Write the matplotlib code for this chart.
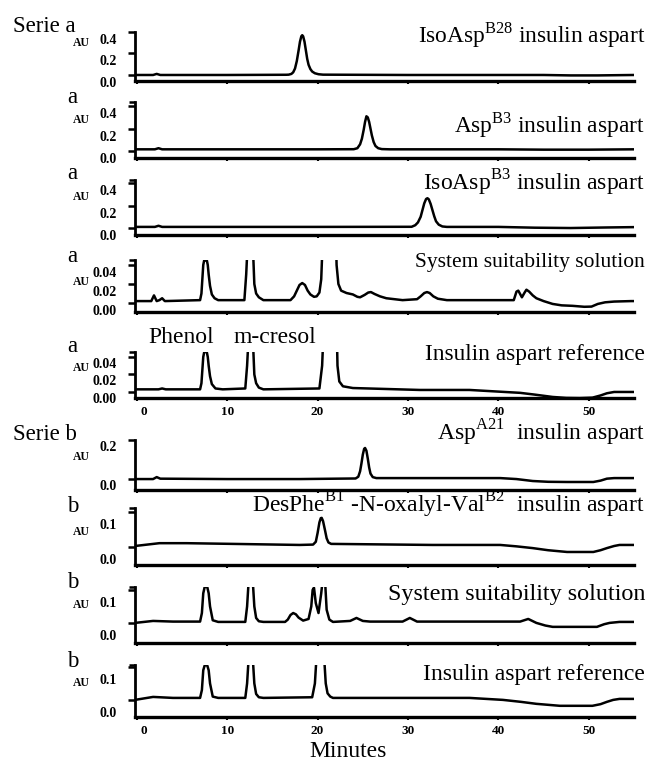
import numpy as np
import matplotlib
matplotlib.use('Agg')
import matplotlib.pyplot as plt
import matplotlib.transforms as mtransforms

plt.rcParams['font.family'] = ['Liberation Serif', 'DejaVu Serif']
plt.rcParams['mathtext.fontset'] = 'custom'
plt.rcParams['mathtext.rm'] = 'Liberation Serif'

W, H = 650, 766  # pixel size of the figure

# ---- traces (time in minutes, absorbance in AU) ----
t1 = [-0.2, 1.8, 2.2, 2.6, 10, 16.5, 16.8, 17.1, 17.3, 17.5, 17.7, 17.9, 18.05, 18.2, 18.3, 18.4, 18.55,
      18.7, 18.85, 19.0, 19.2, 19.4, 19.7, 20.1, 20.6, 30, 45, 48, 51, 55]
a1 = [0.0, 0.0, 0.01, 0.0, 0.0, 0.002, 0.003, 0.01, 0.025, 0.06, 0.13, 0.23, 0.31, 0.36, 0.37, 0.36, 0.31,
      0.23, 0.15, 0.095, 0.055, 0.032, 0.016, 0.007, 0.003, 0.0, 0.0, -0.004, -0.004, 0.0]

t2 = [-0.2, 2.0, 2.4, 2.8, 10, 20, 24.0, 24.4, 24.7, 24.9, 25.1, 25.25, 25.4, 25.55, 25.7, 25.85, 26.0,
      26.2, 26.4, 26.7, 27.1, 28, 40, 45, 50, 55]
a2 = [0.015, 0.015, 0.025, 0.015, 0.015, 0.015, 0.016, 0.025, 0.06, 0.11, 0.19, 0.26, 0.31, 0.30, 0.26, 0.2, 0.14,
      0.08, 0.045, 0.025, 0.017, 0.015, 0.015, 0.012, 0.012, 0.015]

t3 = [-0.2, 2.0, 2.4, 2.8, 10, 20, 30.4, 30.8, 31.1, 31.4, 31.6, 31.8, 32.0, 32.15, 32.3, 32.5, 32.7,
      32.9, 33.1, 33.4, 33.8, 34.3, 40, 44, 48, 52, 55]
a3 = [0.01, 0.01, 0.02, 0.01, 0.01, 0.01, 0.011, 0.025, 0.05, 0.1, 0.16, 0.22, 0.258, 0.265, 0.255, 0.215, 0.16,
      0.105, 0.06, 0.03, 0.014, 0.01, 0.01, 0.003, 0.0, 0.005, 0.008]

t4 = [-0.2, 1.6, 1.9, 2.2, 2.5, 2.8, 3.1, 7.0, 7.15, 7.25, 7.35, 7.45, 7.6, 7.75, 7.85, 7.95, 8.1, 8.3, 8.6, 9.0,
      11.9, 12.1, 12.3, 12.8, 13.0, 13.2, 13.5, 14, 17.0, 17.4, 17.7, 18.0, 18.3, 18.6, 18.9, 19.2, 19.6, 19.9,
      20.2, 20.4, 20.5, 20.8, 22.0, 22.1, 22.3, 22.6, 23.2, 23.9, 24.4, 24.7, 25.2, 25.6, 25.9, 26.3, 26.9, 27.6,
      29.4, 31.0, 31.4, 31.8, 32.1, 32.4, 32.8, 33.3, 34.3, 41.7, 42.0, 42.2, 42.6, 42.9, 43.1, 43.4, 43.8, 44.2,
      45.0, 46.0, 47.0, 48.2, 49.5, 50.3, 51.0, 51.8, 52.8, 54.7, 55]
a4 = [0.002, 0.002, 0.008, 0.002, 0.003, 0.005, 0.002, 0.003, 0.01, 0.025, 0.04, 0.0448, 0.0452, 0.0448, 0.04, 0.03, 0.018, 0.009, 0.005, 0.003,
      0.003, 0.03, 0.07, 0.07, 0.02, 0.01, 0.006, 0.003, 0.003, 0.007, 0.013, 0.019, 0.021, 0.019, 0.013, 0.009, 0.0065, 0.007,
      0.011, 0.025, 0.05, 0.08, 0.08, 0.04, 0.02, 0.013, 0.0105, 0.009, 0.0065, 0.006, 0.0085, 0.011, 0.0115, 0.0095, 0.007, 0.005,
      0.003, 0.004, 0.007, 0.0105, 0.0115, 0.0105, 0.007, 0.0045, 0.003, 0.003, 0.012, 0.013, 0.006, 0.011, 0.014, 0.012, 0.008, 0.005,
      0.002, -0.001, -0.0025, -0.003, -0.004, -0.0038, -0.001, 0.0007, 0.0015, 0.002, 0.002]

t5 = [-0.2, 2.4, 2.8, 3.2, 7.0, 7.15, 7.25, 7.35, 7.45, 7.6, 7.75, 7.85, 7.95, 8.1, 8.3, 8.7, 9.5,
      12.0, 12.2, 12.4, 12.8, 13.0, 13.2, 13.5, 14.0, 20.2, 20.5, 20.7, 22.1, 22.2, 22.4, 22.8, 23.9, 31.3,
      36.8, 42.4, 44.0, 46.0, 47.5, 49.0, 50.4, 51.3, 52.0, 52.8, 55]
a5 = [0.003, 0.003, 0.004, 0.003, 0.003, 0.01, 0.025, 0.04, 0.0452, 0.046, 0.0452, 0.04, 0.03, 0.018, 0.009, 0.004, 0.003,
      0.004, 0.03, 0.07, 0.07, 0.02, 0.01, 0.005, 0.003, 0.004, 0.03, 0.08, 0.08, 0.03, 0.012, 0.0065, 0.0045, 0.0023,
      0.0023, -0.001, -0.003, -0.0057, -0.0068, -0.007, -0.0065, -0.004, -0.0015, 0.0, 0.0]

t6 = [-0.2, 1.8, 2.2, 2.6, 10, 18, 24.2, 24.5, 24.7, 24.85, 25.0, 25.15, 25.25, 25.4, 25.55, 25.7, 25.85,
      26.1, 26.5, 32.7, 40.2, 42.0, 43.8, 45.5, 47.6, 50.5, 51.3, 52.0, 52.8, 55]
a6 = [0.0, 0.0, 0.01, 0.002, 0.0, 0.0, 0.003, 0.012, 0.04, 0.08, 0.125, 0.155, 0.159, 0.145, 0.105, 0.06, 0.028,
      0.01, 0.005, 0.005, 0.005, 0.0, -0.01, -0.014, -0.015, -0.015, -0.008, 0.002, 0.005, 0.005]

t7 = [-0.2, 2.5, 5.5, 10.6, 18.0, 19.5, 19.8, 20.0, 20.2, 20.35, 20.45, 20.6, 20.8, 21.0, 21.2, 21.5,
      32.7, 40.2, 42.0, 43.8, 45.5, 47.6, 50.5, 51.3, 52.0, 52.8, 53.4, 55]
a7 = [0.003, 0.011, 0.011, 0.009, 0.006, 0.007, 0.015, 0.04, 0.07, 0.082, 0.083, 0.074, 0.05, 0.025, 0.013, 0.009,
      0.006, 0.006, 0.002, -0.003, -0.009, -0.014, -0.014, -0.009, -0.003, 0.003, 0.006, 0.006]

t8 = [-0.2, 1.8, 4.0, 7.0, 7.2, 7.35, 7.5, 7.65, 7.8, 7.95, 8.1, 8.4, 9.0, 12.0, 12.2, 12.4, 12.8, 13.0, 13.2, 13.5, 14,
      16.4, 16.7, 17.0, 17.3, 17.6, 17.9, 18.4, 19.0, 19.3, 19.45, 19.6, 19.8, 20.1, 20.4, 20.6, 20.8, 21.0, 21.3, 21.7,
      23.6, 24.3, 25.0, 25.8, 29.4, 30.2, 31.0, 42.4, 43.3, 44.2, 45.2, 46.0, 50.9, 51.7, 52.3, 53.4, 55]
a8 = [0.0, 0.006, 0.004, 0.004, 0.03, 0.09, 0.108, 0.11, 0.108, 0.09, 0.05, 0.008, 0.003, 0.003, 0.05, 0.14, 0.14, 0.05, 0.015, 0.005, 0.003,
      0.003, 0.01, 0.024, 0.03, 0.026, 0.016, 0.007, 0.012, 0.05, 0.1, 0.107, 0.06, 0.03, 0.09, 0.14, 0.14, 0.04, 0.01, 0.003,
      0.006, 0.015, 0.006, 0.004, 0.004, 0.015, 0.004, 0.004, 0.012, 0.0, -0.008, -0.012, -0.012, -0.004, 0.0, 0.003, 0.003]

t9 = [-0.2, 1.8, 4.0, 7.0, 7.2, 7.35, 7.5, 7.65, 7.8, 7.95, 8.1, 8.4, 9.0, 12.0, 12.2, 12.4, 12.8, 13.0, 13.2, 13.5, 14,
      19.4, 19.7, 19.9, 20.7, 20.9, 21.1, 21.4, 21.7, 36.8, 40.5, 42.5, 44.2, 46.8, 50.4, 51.3, 52.0, 52.7, 53.4, 55]
a9 = [0.0, 0.009, 0.006, 0.006, 0.03, 0.09, 0.104, 0.106, 0.104, 0.09, 0.05, 0.01, 0.006, 0.006, 0.05, 0.14, 0.14, 0.05, 0.018, 0.008, 0.006,
      0.008, 0.05, 0.14, 0.14, 0.05, 0.02, 0.01, 0.006, 0.006, 0.0, -0.006, -0.012, -0.018, -0.018, -0.013, -0.006, 0.0, 0.003, 0.003]

titles = [r'IsoAsp$^{\mathrm{B28}}$ insulin aspart',
          r'Asp$^{\mathrm{B3}}$ insulin aspart',
          r'IsoAsp$^{\mathrm{B3}}$ insulin aspart',
          'System suitability solution',
          'Insulin aspart reference',
          r'Asp$^{\mathrm{A21}}$  insulin aspart',
          r'DesPhe$^{\mathrm{B1}}$ -N-oxalyl-Val$^{\mathrm{B2}}$  insulin aspart',
          'System suitability solution',
          'Insulin aspart reference']
series = ['Serie a', 'a', 'a', 'a', 'a', 'Serie b', 'b', 'b', 'b']
yticks = [[0, 0.2, 0.4], [0, 0.2, 0.4], [0, 0.2, 0.4],
          [0, 0.02, 0.04], [0, 0.02, 0.04],
          [0, 0.2], [0, 0.1], [0, 0.1], [0, 0.1]]
yticklabels = [['0.0', '0.2', '0.4'], ['0.0', '0.2', '0.4'], ['0.0', '0.2', '0.4'],
               ['0.00', '0.02', '0.04'], ['0.00', '0.02', '0.04'],
               ['0.0', '0.2'], ['0.0', '0.1'], ['0.0', '0.1'], ['0.0', '0.1']]
xticks = [0, 10, 20, 30, 40, 50]

traces = [(t1, a1), (t2, a2), (t3, a3), (t4, a4), (t5, a5), (t6, a6), (t7, a7), (t8, a8), (t9, a9)]

# layout (pixels): axes top/bottom, y-limits, text baselines
ax_px = [(32, 81), (102, 158), (180, 235), (260, 312), (352, 398),
         (440, 490), (508, 565), (587, 643), (665, 717)]
ylims = [(-0.056, 0.40), (-0.0625, 0.4375), (-0.062, 0.427), (-0.0095, 0.0453), (-0.0069, 0.0457),
         (-0.056, 0.2), (-0.051, 0.111), (-0.061, 0.109), (-0.052, 0.106)]
title_y = [42, 132, 190, 267, 360, 440, 513, 600, 680]
title_fs = [16.8, 16.8, 17.0, 15.5, 16.8, 17.0, 17.0, 17.4, 17.0]
series_y = [32, 103, 179, 262, 352, 440, 512, 588, 667]
au_y = [43, 120, 197, 282, 368, 457, 532, 605, 683]
lab_shift = [7, 7, 7, 7, 6, 6, 12, 12, 12]  # scanned labels sit below their ticks


def fx(x):
    return x / W


def fy(y):
    return 1 - y / H


fig = plt.figure(figsize=(W / 100, H / 100), dpi=100)
left, right = 135, 634

for i, (tt, aa) in enumerate(traces):
    top, bot = ax_px[i]
    ax = fig.add_axes([fx(left), fy(bot), fx(right - left), (bot - top) / H])
    ax.plot(tt, aa, color='black', lw=1.8, solid_joinstyle='round')
    ax.set_xlim(-0.2, 55)
    ax.set_ylim(*ylims[i])
    for s in ['top', 'right']:
        ax.spines[s].set_visible(False)
    ax.spines['left'].set_linewidth(2.0)
    ax.spines['bottom'].set_linewidth(2.4)
    ax.set_xticks(xticks)
    ax.set_yticks(yticks[i])
    if i > 0:
        ax.set_yticks([ylims[i][1]], minor=True)  # small cap tick at the top of each axis
    ax.set_yticklabels(yticklabels[i], fontweight='bold', fontsize=10)
    ax.tick_params(axis='y', direction='out', length=5, width=1.8, pad=8)
    ax.tick_params(axis='y', which='minor', direction='out', length=4, width=1.8)
    ax.tick_params(axis='x', direction='out', length=2.5, width=1.5, pad=3)
    off = mtransforms.ScaledTranslation(0, -lab_shift[i] / 100, fig.dpi_scale_trans)
    for lab in ax.get_yticklabels():
        lab.set_transform(lab.get_transform() + off)
    if i in (4, 8):
        ax.set_xticklabels([str(v) for v in xticks], fontweight='bold', fontsize=9.5)
        # the scanned "0" sits a little right of its tick
        xl = ax.get_xticklabels()[0]
        xl.set_transform(xl.get_transform() + mtransforms.ScaledTranslation(0.07, 0, fig.dpi_scale_trans))
    else:
        ax.set_xticklabels([])

    fig.text(fx(645), fy(title_y[i]), titles[i], ha='right', va='baseline', fontsize=title_fs[i])
    sx = 13 if series[i].startswith('Serie') else 67
    fig.text(fx(sx), fy(series_y[i]), series[i], ha='left', va='baseline', fontsize=16.5)
    fig.text(fx(73), fy(au_y[i]), 'AU', ha='left', va='center', fontsize=8.5, fontweight='bold')

fig.text(fx(148), fy(343), 'Phenol', ha='left', va='baseline', fontsize=17)
fig.text(fx(233), fy(343), 'm-cresol', ha='left', va='baseline', fontsize=17)
fig.text(fx(348), fy(757), 'Minutes', ha='center', va='baseline', fontsize=17)

fig.savefig('out.png', dpi=100, facecolor='white')
